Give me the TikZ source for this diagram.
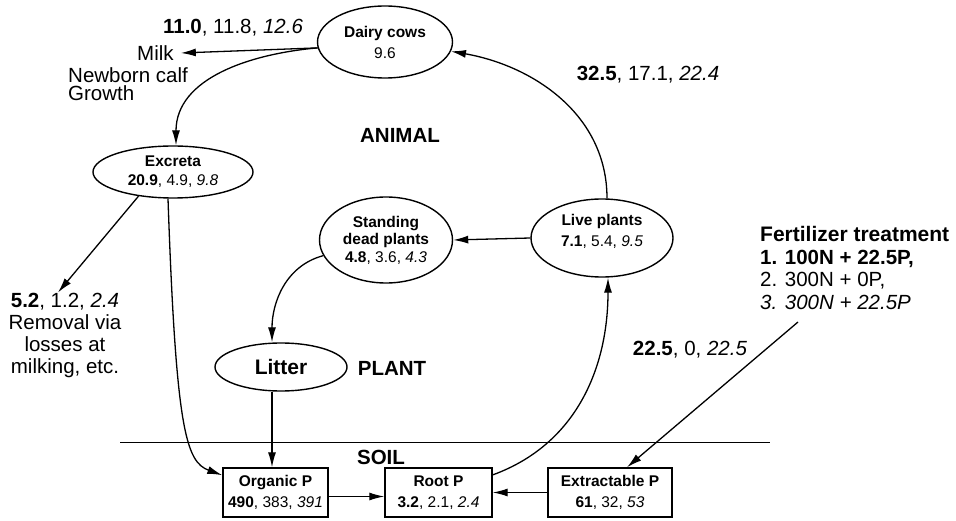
\documentclass[tikz,border=0pt]{standalone}
\usepackage{fontspec}
\setmainfont{Liberation Sans}
\usetikzlibrary{arrows.meta,shapes.geometric,positioning}
\newcommand{\labsize}{\fontsize{20.5}{22}\selectfont}
\newcommand{\poolsize}{\fontsize{15.5}{21}\selectfont}

\begin{document}
\begin{tikzpicture}
  [x=1pt,y=-1pt,
  pool/.style={ellipse, draw, line width=1.4pt, align=center,
    inner sep=0pt, font=\poolsize},
  block/.style={rectangle, draw, line width=1.4pt, align=center,
    minimum height=49pt, inner sep=1pt, font=\poolsize},
  line/.style={draw, line width=1.3pt, -{Latex[length=15pt,width=8pt]}},
  tag/.style={font=\labsize, align=center, inner sep=0pt},
  zone/.style={font=\labsize\bfseries, inner sep=0pt}]
  \useasboundingbox (0,0) rectangle (956,521);
  % animal part
  \node [pool, minimum width=135pt, minimum height=72pt] (cows) at (385,42)
  {\textbf{Dairy cows}\\9.6};
  \node [pool, minimum width=160pt, minimum height=52pt] (excreta) at (173,172)
  {\textbf{Excreta}\\[-2pt]\textbf{20.9}, 4.9, \textit{9.8}};
  \node [tag] (outflow) at (233,28) {\textbf{11.0}, 11.8, \textit{12.6}};
  \node [tag, anchor=west] (milk) at (137,53) {Milk};
  \node [tag, anchor=north west, align=left, font=\fontsize{20.5}{18.5}\selectfont]
  (calf) at (68,67) {Newborn calf\\Growth};
  \node [tag, font=\fontsize{20.5}{22}\selectfont] (removal) at (65,335)
  {\textbf{5.2}, 1.2, \textit{2.4}\\Removal via\\losses at\\milking, etc.};
  \node [zone] (animal) at (400,135) {ANIMAL};
  \node [tag] (intake) at (648,75) {\textbf{32.5}, 17.1, \textit{22.4}};
  % plant part
  \node [pool, minimum width=133pt, minimum height=86pt,
  font=\fontsize{15.5}{17.5}\selectfont] (standing) at (386,240)
  {\textbf{Standing}\\\textbf{dead plants}\\\textbf{4.8}, 3.6, \textit{4.3}};
  \node [pool, minimum width=142pt, minimum height=78pt, text depth=16pt]
  (livep) at (602,238) {\textbf{Live plants}\\\textbf{7.1}, 5.4, \textit{9.5}};
  \node [pool, minimum width=132pt, minimum height=48pt, font=\fontsize{21}{24}\bfseries]
  (litter) at (281,367) {Litter};
  \node [zone] (plant) at (392,368) {PLANT};
  \node [tag, align=left, anchor=west, font=\fontsize{20.5}{22.5}\selectfont]
  (fert) at (760,268) {\textbf{\fontsize{21}{22.5}\selectfont Fertilizer treatment}\\
    \textbf{1. 100N + 22.5P,}\\2. 300N + 0P,\\\textit{3. 300N + 22.5P}};
  \coordinate (fertfoot) at (798,322);
  \node [tag] (fertflow) at (690,350) {\textbf{22.5}, 0, \textit{22.5}};
  % soil part
  \draw [line width=1pt] (120,442) -- (770,442);
  \node [zone] (soil) at (381,457) {SOIL};
  \node [block, minimum width=105pt] (organic) at (275.5,492.5)
  {\textbf{Organic P}\\\textbf{490}, 383, \textit{391}};
  \node [block, minimum width=107pt] (root) at (438.5,492.5)
  {\textbf{Root P}\\\textbf{3.2}, 2.1, \textit{2.4}};
  \node [block, minimum width=124pt] (extract) at (610,492.5)
  {\textbf{Extractable P}\\\textbf{61}, 32, \textit{53}};
  \begin{scope}[every path/.style=line]
    \path (cows.185) -- ([xshift=7pt]milk.east);
    \path (cows.185) to [out=185,in=90] ([xshift=3pt]excreta.north);
    \path (excreta.215) -- ([xshift=-7pt]removal.north);
    \path ([xshift=-5pt]excreta.south) .. controls (176,430) and (186,462)
    .. (organic.162);
    \path (livep.west) -- (standing.east);
    \path (standing.194) to [out=195,in=90] ([xshift=-9pt]litter.north);
    \path ([xshift=-9pt]litter.south) -- ([xshift=-9pt]litter.south |- organic.north);
    \path ([yshift=-4pt]organic.east) -- ([yshift=-4pt]root.west);
    \path (extract.west) -- (root.east);
    \path (root.18) to [out=20,in=-90] ([xshift=6pt]livep.south);
    \path ([xshift=5pt]livep.north) to [out=90,in=-10] (cows.-8);
    \path (fertfoot) -- ([xshift=17pt]extract.north);
  \end{scope}
\end{tikzpicture}
\end{document}
